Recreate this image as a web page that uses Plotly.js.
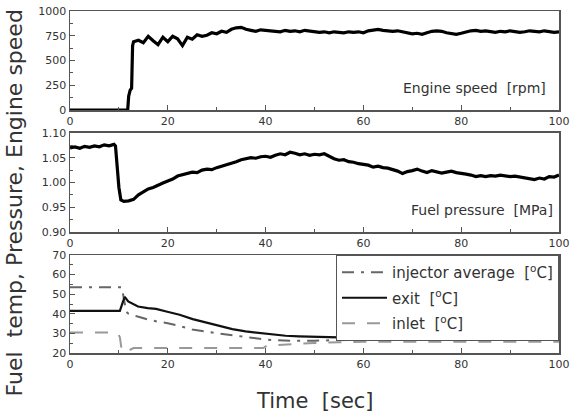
<!DOCTYPE html>
<html>
<head>
<meta charset="utf-8">
<script src="https://cdn.plot.ly/plotly-3.0.1.min.js"></script>
<style>html,body{margin:0;padding:0;background:#fff;}#chart{width:575px;height:412px;}</style>
</head>
<body>
<div id="chart"></div>
<script>
// Engine speed [rpm]
const speedTime = [0, 11.8, 12.0, 12.3, 12.6, 12.8,
  13,14,15,16,17,18,19,20,21,22,23,24,25,26,27,28,29,30,31,32,33,34,35,36,37,38,39,40,
  41,42,43,44,45,46,47,48,49,50,51,52,53,54,55,56,57,58,59,60,61,62,63,64,65,66,67,68,69,70,
  71,72,73,74,75,76,77,78,79,80,81,82,83,84,85,86,87,88,89,90,91,92,93,94,95,96,97,98,99,100];
const speedRpm = [0, 0, 140, 200, 220, 650,
  690,705,680,745,700,660,735,690,745,720,650,735,715,760,745,755,780,770,795,785,815,830,835,815,805,795,810,805,
  800,795,790,805,795,800,790,805,800,795,785,790,780,790,785,780,790,785,790,780,800,810,815,805,800,795,800,790,780,770,
  775,765,780,795,800,795,780,770,765,775,790,800,805,795,800,790,785,795,790,800,795,785,790,800,795,790,800,790,785,790];

// Fuel pressure [MPa]
const presTime = [0,1,2,3,4,5,6,7,8,9,9.3,9.6,10.0,10.4,11,12,13,14,15,16,17,18,19,20,
  21,22,23,24,25,26,27,28,29,30,31,32,33,34,35,36,37,38,39,40,41,42,43,44,45,46,47,48,49,50,
  51,52,53,54,55,56,57,58,59,60,61,62,63,64,65,66,67,68,69,70,71,72,73,74,75,76,77,78,79,80,
  81,82,83,84,85,86,87,88,89,90,91,92,93,94,95,96,97,98,99,100];
const presMPa = [1.070,1.072,1.069,1.073,1.071,1.074,1.072,1.076,1.074,1.077,1.074,1.040,0.990,0.965,0.962,0.963,0.966,0.975,0.982,0.987,0.990,0.995,0.999,1.003,
  1.007,1.013,1.016,1.018,1.021,1.020,1.025,1.027,1.026,1.030,1.033,1.035,1.038,1.042,1.046,1.048,1.050,1.049,1.052,1.053,1.051,1.055,1.058,1.056,1.061,1.059,1.056,1.058,1.055,1.057,
  1.056,1.058,1.053,1.048,1.045,1.046,1.042,1.041,1.038,1.037,1.035,1.031,1.033,1.030,1.029,1.026,1.023,1.018,1.022,1.024,1.027,1.023,1.020,1.024,1.022,1.019,1.021,1.023,1.020,1.019,
  1.017,1.015,1.012,1.014,1.012,1.014,1.013,1.015,1.014,1.012,1.013,1.011,1.010,1.008,1.006,1.009,1.007,1.012,1.011,1.015];

// Fuel temperatures [°C]
const injTime = [0,10.6,11.5,12,14,16,18,20,22,25,28,30,33,35,38,40,43,46,50,55,60,70,80,90,100];
const injTemp = [53.5,53.5,41,40,38.5,37,36,35.2,34,32,30.8,30.2,29.2,28.5,27.5,26.8,26.4,26.2,26.3,26.6,26.8,26.8,26.8,26.8,26.8];
const exitTime = [0,10.2,10.8,11.2,11.9,13,13.9,15.9,17.6,19.7,22.4,25.1,27.8,30.5,33.2,35.9,38.6,41.4,44.1,46.8,50,55,60,70,80,90,100];
const exitTemp = [41.5,41.5,46,48.6,46.3,44.8,43.7,42.9,42.5,41.2,39.5,37.3,35.6,33.6,32.2,31,30.2,29.3,28.8,28.5,28.2,28,27.9,27.9,27.9,27.9,27.9];
const inletTime = [0,9.3,9.8,10.2,10.6,11.2,12,13,20,30,39.5,40.3,43,46,50,55,60,70,80,90,100];
const inletTemp = [30.5,30.5,30,28,21,20.3,21.3,22.5,22.5,22.5,22.5,23.8,24.2,24.7,25.1,25.5,25.8,25.8,25.8,25.8,25.8];

const seriesNames = ['injector average  [<sup>o</sup>C]', 'exit  [<sup>o</sup>C]', 'inlet  [<sup>o</sup>C]'];
const panelLabels = ['Engine speed  [rpm]', 'Fuel pressure  [MPa]'];
const axisTitleY = 'Fuel  temp, Pressure, Engine speed';
const axisTitleX = 'Time  [sec]';

const FONT = 'DejaVu Sans, Verdana, sans-serif';
const AX = '#555';

const traces = [
  {x: speedTime, y: speedRpm, xaxis: 'x', yaxis: 'y', mode: 'lines', showlegend: false,
   line: {color: '#000', width: 3.2}},
  {x: presTime, y: presMPa, xaxis: 'x2', yaxis: 'y2', mode: 'lines', showlegend: false,
   line: {color: '#000', width: 3.2}},
  {x: injTime, y: injTemp, xaxis: 'x3', yaxis: 'y3', mode: 'lines', name: seriesNames[0], legendgroup: 'a',
   line: {color: '#666', width: 2, dash: '12px,7px,3px,7px'}},
  {x: exitTime, y: exitTemp, xaxis: 'x3', yaxis: 'y3', mode: 'lines', name: seriesNames[1], legendgroup: 'b',
   line: {color: '#111', width: 2.2}},
  {x: inletTime, y: inletTemp, xaxis: 'x3', yaxis: 'y3', mode: 'lines', name: seriesNames[2], legendgroup: 'c',
   line: {color: '#999', width: 2, dash: '13px,12px'}}
];

function xax(anchor) {
  return {anchor: anchor, range: [0, 100], dtick: 20, tick0: 0, ticks: 'inside', ticklen: 5, tickwidth: 1,
    tickcolor: AX, showline: true, linecolor: AX, linewidth: 1.5, mirror: true, showgrid: false, zeroline: false,
    tickfont: {family: FONT, size: 11, color: '#333'},
    minor: {dtick: 10, ticks: 'inside', ticklen: 3, tickcolor: AX, showgrid: false}};
}
function yax(anchor, domain, range, dtick, minorDtick, fmt) {
  return {anchor: anchor, domain: domain, range: range, dtick: dtick, tick0: range[0], ticks: 'inside', ticklen: 5,
    tickwidth: 1, tickcolor: AX, showline: true, linecolor: AX, linewidth: 1.5, mirror: true, showgrid: false,
    zeroline: false, tickformat: fmt, tickfont: {family: FONT, size: 11, color: '#333'},
    minor: {dtick: minorDtick, ticks: 'inside', ticklen: 3, tickcolor: AX, showgrid: false}};
}

const layout = {
  width: 575, height: 412,
  margin: {l: 70, r: 16, t: 11, b: 59},
  paper_bgcolor: '#fff', plot_bgcolor: '#fff',
  font: {family: FONT, color: '#333'},
  xaxis: xax('y'), xaxis2: xax('y2'), xaxis3: xax('y3'),
  yaxis: yax('x', [0.7105, 1], [0, 1000], 250, 125, 'd'),
  yaxis2: yax('x2', [0.3538, 0.6433], [0.9, 1.1], 0.05, 0.025, '.2f'),
  yaxis3: yax('x3', [0, 0.2865], [20, 70], 10, 5, 'd'),
  legend: {x: 1, xanchor: 'right', y: 0.2865, yanchor: 'top', bgcolor: '#fff', bordercolor: AX, borderwidth: 1,
    font: {family: FONT, size: 15, color: '#333'}, tracegroupgap: 3, traceorder: 'grouped', itemwidth: 45},
  annotations: [
    {text: panelLabels[0], xref: 'paper', yref: 'paper', x: 0.9775, y: 0.7749, xanchor: 'right', yanchor: 'middle',
     showarrow: false, font: {family: FONT, size: 14, color: '#333'}},
    {text: panelLabels[1], xref: 'paper', yref: 'paper', x: 0.9918, y: 0.4181, xanchor: 'right', yanchor: 'middle',
     showarrow: false, font: {family: FONT, size: 14, color: '#333'}},
    {text: axisTitleY, xref: 'paper', yref: 'paper', x: -0.1125, y: 0.44, xanchor: 'center', yanchor: 'middle',
     textangle: -90, showarrow: false, font: {family: FONT, size: 22, color: '#333'}},
    {text: axisTitleX, xref: 'paper', yref: 'paper', x: 0.5, y: -0.14, xanchor: 'center', yanchor: 'middle',
     showarrow: false, font: {family: FONT, size: 21, color: '#333'}}
  ]
};

Plotly.newPlot('chart', traces, layout, {displayModeBar: false, staticPlot: true});
</script>
</body>
</html>
